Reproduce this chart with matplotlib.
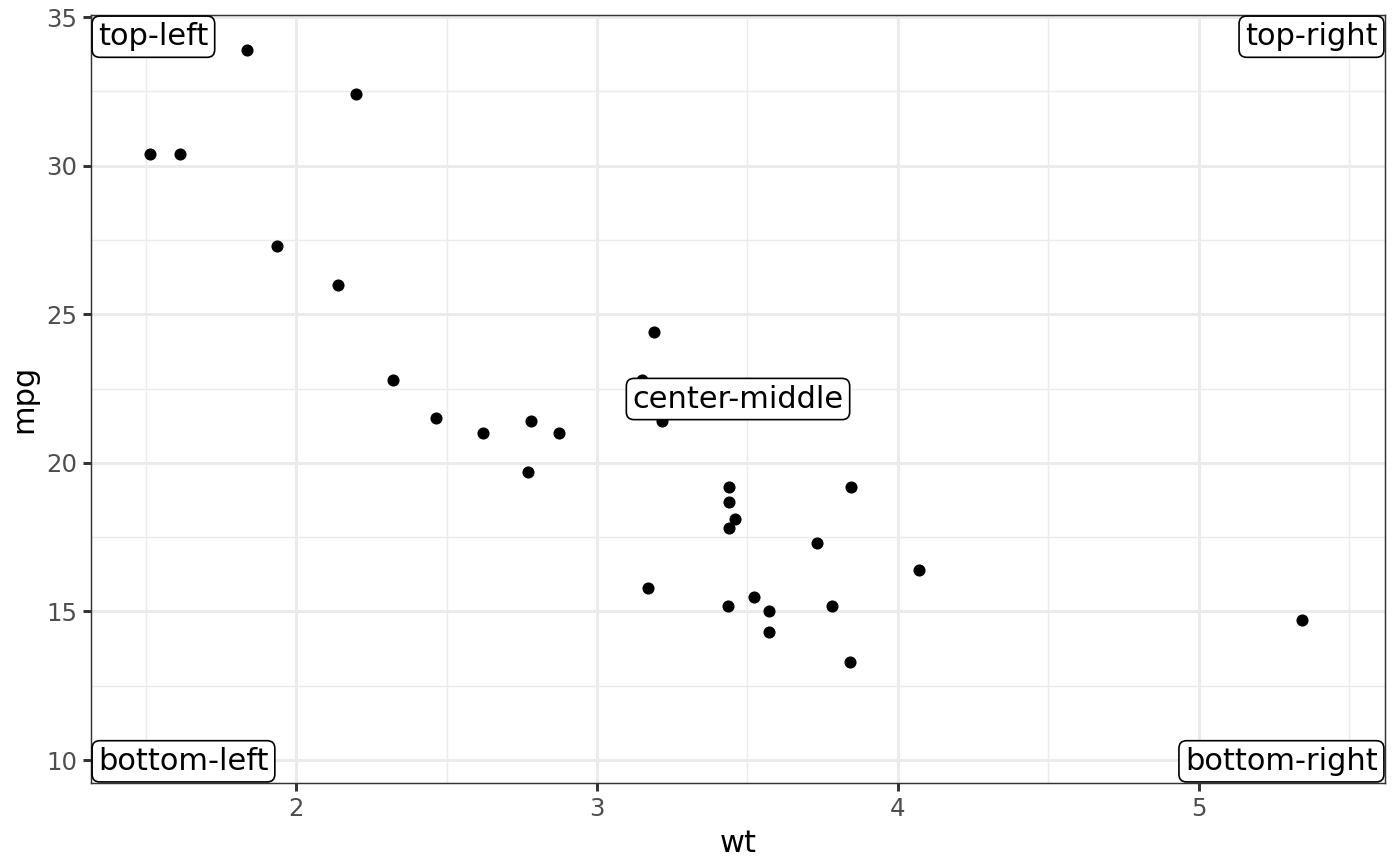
import matplotlib
matplotlib.use("Agg")
import matplotlib.pyplot as plt
import numpy as np

# mtcars weight and mpg
wt = [2.620, 2.875, 2.320, 3.215, 3.440, 3.460, 3.570, 3.190, 3.150, 3.440, 3.440,
      4.070, 3.730, 3.780, 5.250, 5.424, 5.345, 2.200, 1.615, 1.835, 2.465, 3.520,
      3.435, 3.840, 3.845, 1.935, 2.140, 1.513, 3.170, 2.770, 3.570, 2.780]
mpg = [21.0, 21.0, 22.8, 21.4, 18.7, 18.1, 14.3, 24.4, 22.8, 19.2, 17.8,
       16.4, 17.3, 15.2, 10.4, 10.4, 14.7, 32.4, 30.4, 33.9, 21.5, 15.5,
       15.2, 13.3, 19.2, 27.3, 26.0, 30.4, 15.8, 19.7, 15.0, 21.4]
x_ticks = [2, 3, 4, 5]
y_ticks = [10, 15, 20, 25, 30, 35]
corner_labels = ["top-left", "top-right", "bottom-left", "bottom-right"]
center_label = "center-middle"

plt.rcParams['font.family'] = ['DejaVu Sans']

fig = plt.figure(figsize=(7, 4.33), dpi=200)
ax = fig.add_axes([0.065, 0.0958, 0.9243, 0.8869])

xmin, xmax = min(wt), max(wt)
ymin, ymax = min(mpg), max(mpg)
dx = (xmax - xmin) * 0.05
dy = (ymax - ymin) * 0.05
ax.set_xlim(xmin - dx, xmax + dx)
ax.set_ylim(ymin - dy, ymax + dy)

ax.set_xticks(x_ticks)
ax.set_yticks(y_ticks)
ax.set_xticks(np.arange(1.5, 6.0, 1.0), minor=True)
ax.set_yticks(np.arange(12.5, 35, 5), minor=True)
ax.grid(which='major', color='#EBEBEB', linewidth=1.07)
ax.grid(which='minor', color='#EBEBEB', linewidth=0.53)
ax.set_axisbelow(True)
ax.tick_params(which='major', length=2.75, width=1.07, color='#333333',
               labelsize=8.8, labelcolor='#4D4D4D', pad=2.2)
ax.tick_params(which='minor', length=0)
for s in ax.spines.values():
    s.set_color('#333333')
    s.set_linewidth(0.53)

ax.scatter(wt, mpg, s=19, color='black', zorder=3, linewidths=0)

ax.set_xlabel('wt', fontsize=11, labelpad=3)
ax.set_ylabel('mpg', fontsize=11, labelpad=3)

box = dict(boxstyle='round,pad=0.2,rounding_size=0.25', fc='white', ec='black', lw=0.6)
off = 11 * 0.2 + 0.4
positions = [((0, 1), (off, -off), 'left', 'top'),
             ((1, 1), (-off, -off), 'right', 'top'),
             ((0, 0), (off, off), 'left', 'bottom'),
             ((1, 0), (-off, off), 'right', 'bottom')]
for lab, (xy, o, ha, va) in zip(corner_labels, positions):
    ax.annotate(lab, xy=xy, xycoords='axes fraction', xytext=o,
                textcoords='offset points', ha=ha, va=va, fontsize=11,
                bbox=box, zorder=4, annotation_clip=False, clip_on=True)

ax.text((xmin + xmax) / 2, (ymin + ymax) / 2, center_label, ha='center',
        va='center', fontsize=11, bbox=box, zorder=4)

fig.savefig('out.png', dpi=200)
